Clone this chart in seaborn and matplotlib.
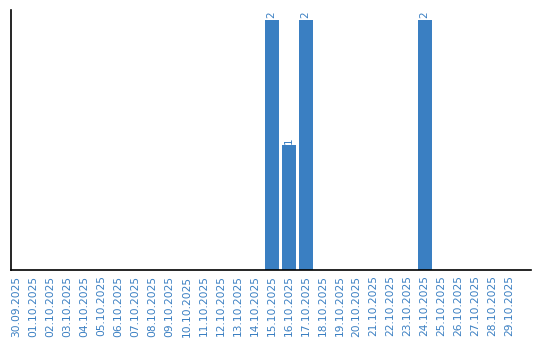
import matplotlib
matplotlib.use("Agg")
import matplotlib.pyplot as plt
import seaborn as sns
import pandas as pd

dates = ["30.09.2025", "01.10.2025", "02.10.2025", "03.10.2025", "04.10.2025",
         "05.10.2025", "06.10.2025", "07.10.2025", "08.10.2025", "09.10.2025",
         "10.10.2025", "11.10.2025", "12.10.2025", "13.10.2025", "14.10.2025",
         "15.10.2025", "16.10.2025", "17.10.2025", "18.10.2025", "19.10.2025",
         "20.10.2025", "21.10.2025", "22.10.2025", "23.10.2025", "24.10.2025",
         "25.10.2025", "26.10.2025", "27.10.2025", "28.10.2025", "29.10.2025"]
counts = [0, 0, 0, 0, 0, 0, 0, 0, 0, 0,
          0, 0, 0, 0, 0, 2, 1, 2, 0, 0,
          0, 0, 0, 0, 2, 0, 0, 0, 0, 0]

BLUE = "#3a7fc2"
sns.set_style("white")
df = pd.DataFrame({"date": dates, "count": counts})

fig = plt.figure(figsize=(5.4, 3.4), dpi=100)
ax = fig.add_axes([0.0195, 0.206, 0.964, 0.765])
sns.barplot(data=df, x="date", y="count", color=BLUE, saturation=1, width=0.82,
            linewidth=0, ax=ax)

ax.set_xlim(-0.35, 30.26)
ax.set_ylim(0, 2.08)
ax.set_xlabel("")
ax.set_ylabel("")
ax.set_yticks([])
ax.tick_params(axis="x", length=0, pad=4, labelsize=7.7, labelcolor=BLUE, rotation=90)
for s in ["top", "right"]:
    ax.spines[s].set_visible(False)
for s in ["left", "bottom"]:
    ax.spines[s].set_color("black")
    ax.spines[s].set_linewidth(1.2)

labels = [str(v) if v else "" for v in counts]
ax.bar_label(ax.containers[0], labels=labels, rotation=90, color=BLUE, fontsize=7.5, padding=1)

fig.savefig("out.png", dpi=100)
